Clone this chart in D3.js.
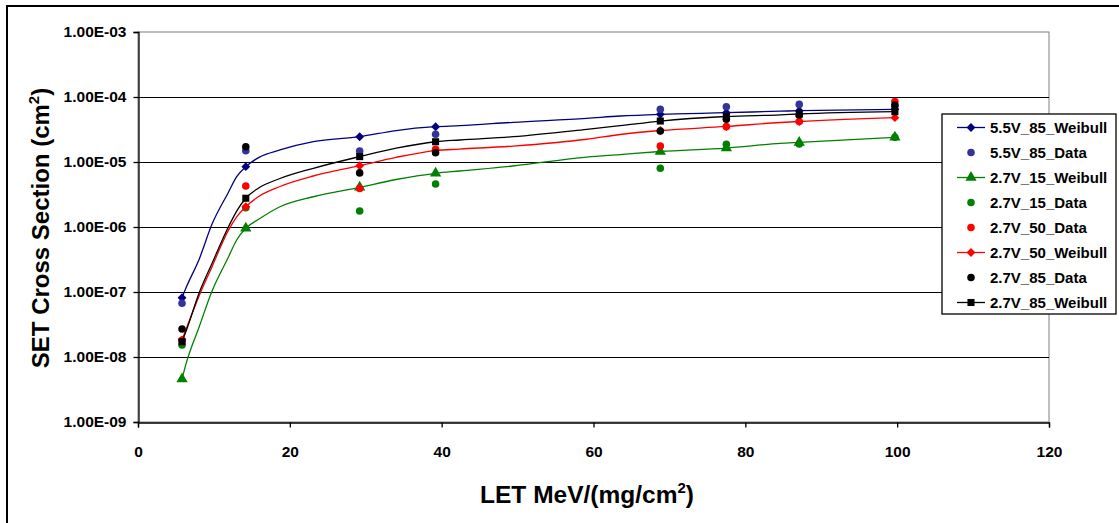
<!DOCTYPE html>
<html><head><meta charset="utf-8">
<script src="https://cdn.jsdelivr.net/npm/d3@7"></script>
<style>
html,body{margin:0;padding:0;background:#fff;}
svg{display:block;font-family:"Liberation Sans",Arial,sans-serif;}
</style></head>
<body>
<svg id="chart" width="1119" height="523"></svg>
<script>
// ---- data ----
const letValues = [5.8, 14.2, 29.2, 39.2, 68.8, 77.5, 87.1, 99.7];
const data55_85 = [6.7e-8, 1.49e-5, 1.48e-5, 2.67e-5, 6.46e-5, 7.1e-5, 7.7e-5, 7.2e-5];
const data27_15 = [1.53e-8, 1.98e-6, 1.76e-6, 4.6e-6, 8.0e-6, 1.87e-5, 1.89e-5, 2.4e-5];
const data27_50 = [1.8e-8, 4.27e-6, 3.9e-6, 1.57e-5, 1.76e-5, 3.5e-5, 4.2e-5, 8.5e-5];
const data27_85 = [2.7e-8, 1.72e-5, 6.8e-6, 1.39e-5, 3.0e-5, 4.54e-5, 5.3e-5, 7.5e-5];

const fitX = [5.8, 6.4, 8.1, 9.7, 11.9, 13.0, 14.2, 16.0, 18.7, 23.1, 29.2, 34.0, 39.2, 42.4, 49.4, 59.1, 63.5, 68.8, 77.5, 84.6, 87.1, 99.7];
const fit55_85 = [8.17e-8, 1.21e-7, 3.29e-7, 1.07e-6, 3.40e-6, 5.94e-6, 8.47e-6, 1.19e-5, 1.53e-5, 2.05e-5, 2.45e-5, 3.05e-5, 3.49e-5, 3.62e-5, 4.08e-5, 4.70e-5, 5.10e-5, 5.42e-5, 5.73e-5, 6.05e-5, 6.15e-5, 6.47e-5];
const fit27_15 = [4.59e-9, 8.4e-9, 3.0e-8, 1.0e-7, 3.42e-7, 6.31e-7, 9.55e-7, 1.34e-6, 2.05e-6, 2.92e-6, 4.08e-6, 5.38e-6, 6.7e-6, 7.27e-6, 8.68e-6, 1.19e-5, 1.30e-5, 1.45e-5, 1.64e-5, 1.93e-5, 2.0e-5, 2.40e-5];
const fit27_50 = [1.83e-8, 2.79e-8, 9.0e-8, 2.37e-7, 8.87e-7, 1.43e-6, 2.05e-6, 3.0e-6, 4.20e-6, 6.09e-6, 8.77e-6, 1.18e-5, 1.50e-5, 1.58e-5, 1.76e-5, 2.24e-5, 2.65e-5, 3.05e-5, 3.52e-5, 4.05e-5, 4.20e-5, 4.81e-5];
const fit27_85 = [1.72e-8, 2.63e-8, 1.0e-7, 2.67e-7, 1.0e-6, 1.76e-6, 2.77e-6, 4.05e-6, 5.57e-6, 8.0e-6, 1.21e-5, 1.63e-5, 2.05e-5, 2.18e-5, 2.45e-5, 3.18e-5, 3.62e-5, 4.27e-5, 5.01e-5, 5.32e-5, 5.48e-5, 5.94e-5];

const xTicks = [0, 20, 40, 60, 80, 100, 120];
const yTicks = [1e-9, 1e-8, 1e-7, 1e-6, 1e-5, 1e-4, 1e-3];
const yTickLabels = ["1.00E-09","1.00E-08","1.00E-07","1.00E-06","1.00E-05","1.00E-04","1.00E-03"];

// series in legend / draw order
const series = [
  {name:"5.5V_85_Weibull", type:"fit", x:fitX, y:fit55_85, color:"#000080", marker:"diamond"},
  {name:"5.5V_85_Data", type:"data", x:letValues, y:data55_85, color:"#333399", marker:"circle"},
  {name:"2.7V_15_Weibull", type:"fit", x:fitX, y:fit27_15, color:"#008000", marker:"triangle"},
  {name:"2.7V_15_Data", type:"data", x:letValues, y:data27_15, color:"#008000", marker:"circle"},
  {name:"2.7V_50_Data", type:"data", x:letValues, y:data27_50, color:"#FF0000", marker:"circle"},
  {name:"2.7V_50_Weibull", type:"fit", x:fitX, y:fit27_50, color:"#FF0000", marker:"diamond"},
  {name:"2.7V_85_Data", type:"data", x:letValues, y:data27_85, color:"#000000", marker:"circle"},
  {name:"2.7V_85_Weibull", type:"fit", x:fitX, y:fit27_85, color:"#000000", marker:"square"}
];

// ---- layout ----
const L = 138, R = 1049, T = 32, B = 422;
const svg = d3.select("#chart");
const x = d3.scaleLinear().domain([0,120]).range([L,R]);
const y = d3.scaleLog().domain([1e-9,1e-3]).range([B,T]);

// outer frame
svg.append("rect").attr("x",7).attr("y",6).attr("width",1125).attr("height",540)
  .attr("fill","#fff").attr("stroke","#000").attr("stroke-width",2);

// plot area border
svg.append("rect").attr("x",L).attr("y",T).attr("width",R-L).attr("height",B-T)
  .attr("fill","#fff").attr("stroke","#808080").attr("stroke-width",1);

// gridlines
svg.append("g").selectAll("line").data(yTicks.filter(d=>d>1e-9 && d<1e-3)).join("line")
  .attr("x1",L).attr("x2",R).attr("y1",d=>Math.round(y(d))+0.5).attr("y2",d=>Math.round(y(d))+0.5)
  .attr("stroke","#000").attr("stroke-width",1);

// axes
const yAxis = d3.axisLeft(y).tickValues(yTicks).tickSize(5).tickPadding(7)
  .tickFormat((d,i)=>yTickLabels[i]);
const gy = svg.append("g").attr("transform",`translate(${L+0.5},0)`).call(yAxis);
const xAxis = d3.axisBottom(x).tickValues(xTicks).tickSize(5).tickPadding(18).tickFormat(d3.format("d"));
const gx = svg.append("g").attr("transform",`translate(0,${B+0.5})`).call(xAxis);
[gx,gy].forEach(g=>{
  g.select(".domain").attr("stroke","#000").attr("stroke-width",1.3);
  g.selectAll(".tick line").attr("stroke","#000").attr("stroke-width",1.3);
  g.selectAll(".tick text").attr("fill","#000").attr("font-size","15.5px").attr("font-weight","bold")
    .attr("font-family",'"Liberation Sans",Arial,sans-serif');
});

// marker path generator
function markerPath(type){
  if(type==="diamond") return d3.symbol().type(d3.symbolDiamond2).size(50)();
  if(type==="triangle") return d3.symbol().type(d3.symbolTriangle).size(55)();
  if(type==="square") return d3.symbol().type(d3.symbolSquare).size(50)();
  return d3.symbol().type(d3.symbolCircle).size(45)();
}

const line = d3.line().x(d=>x(d[0])).y(d=>y(d[1])).curve(d3.curveMonotoneX);
const plot = svg.append("g");
series.forEach(s=>{
  const pts = s.x.map((v,i)=>[v,s.y[i]]);
  if(s.type==="fit"){
    plot.append("path").datum(pts).attr("d",line).attr("fill","none")
      .attr("stroke",s.color).attr("stroke-width",1.3);
    const mk = pts.filter(p=>letValues.includes(p[0]));
    plot.append("g").selectAll("path").data(mk).join("path")
      .attr("transform",p=>`translate(${x(p[0])},${y(p[1])})`)
      .attr("d",markerPath(s.marker)).attr("fill",s.color);
  } else {
    plot.append("g").selectAll("path").data(pts).join("path")
      .attr("transform",p=>`translate(${x(p[0])},${y(p[1])})`)
      .attr("d",markerPath("circle")).attr("fill",s.color);
  }
});

// axis titles
const xt = svg.append("text").attr("x",587).attr("y",503).attr("text-anchor","middle")
  .attr("font-size","24.5px").attr("font-weight","bold").attr("fill","#000");
xt.append("tspan").text("LET MeV/(mg/cm");
xt.append("tspan").text("2").attr("font-size","15px").attr("dy","-10");
xt.append("tspan").text(")").attr("dy","10");

const yt = svg.append("text").attr("transform","translate(49,228) rotate(-90)").attr("text-anchor","middle")
  .attr("font-size","24px").attr("font-weight","bold").attr("fill","#000");
yt.append("tspan").text("SET Cross Section (cm");
yt.append("tspan").text("2").attr("font-size","15px").attr("dy","-10");
yt.append("tspan").text(")").attr("dy","10");

// legend
const lg = svg.append("g");
lg.append("rect").attr("x",942).attr("y",114).attr("width",174).attr("height",200)
  .attr("fill","#fff").attr("stroke","#000").attr("stroke-width",1.3);
series.forEach((s,i)=>{
  const cy = 127.5 + i*25;
  if(s.type==="fit"){
    lg.append("line").attr("x1",957).attr("x2",985).attr("y1",cy).attr("y2",cy)
      .attr("stroke",s.color).attr("stroke-width",1.3);
  }
  lg.append("path").attr("transform",`translate(971,${cy})`)
    .attr("d",markerPath(s.type==="fit"?s.marker:"circle")).attr("fill",s.color);
  lg.append("text").attr("x",990).attr("y",cy).attr("dy","0.36em")
    .attr("font-size","15px").attr("font-weight","bold").attr("fill","#000").text(s.name);
});
</script>
</body></html>
